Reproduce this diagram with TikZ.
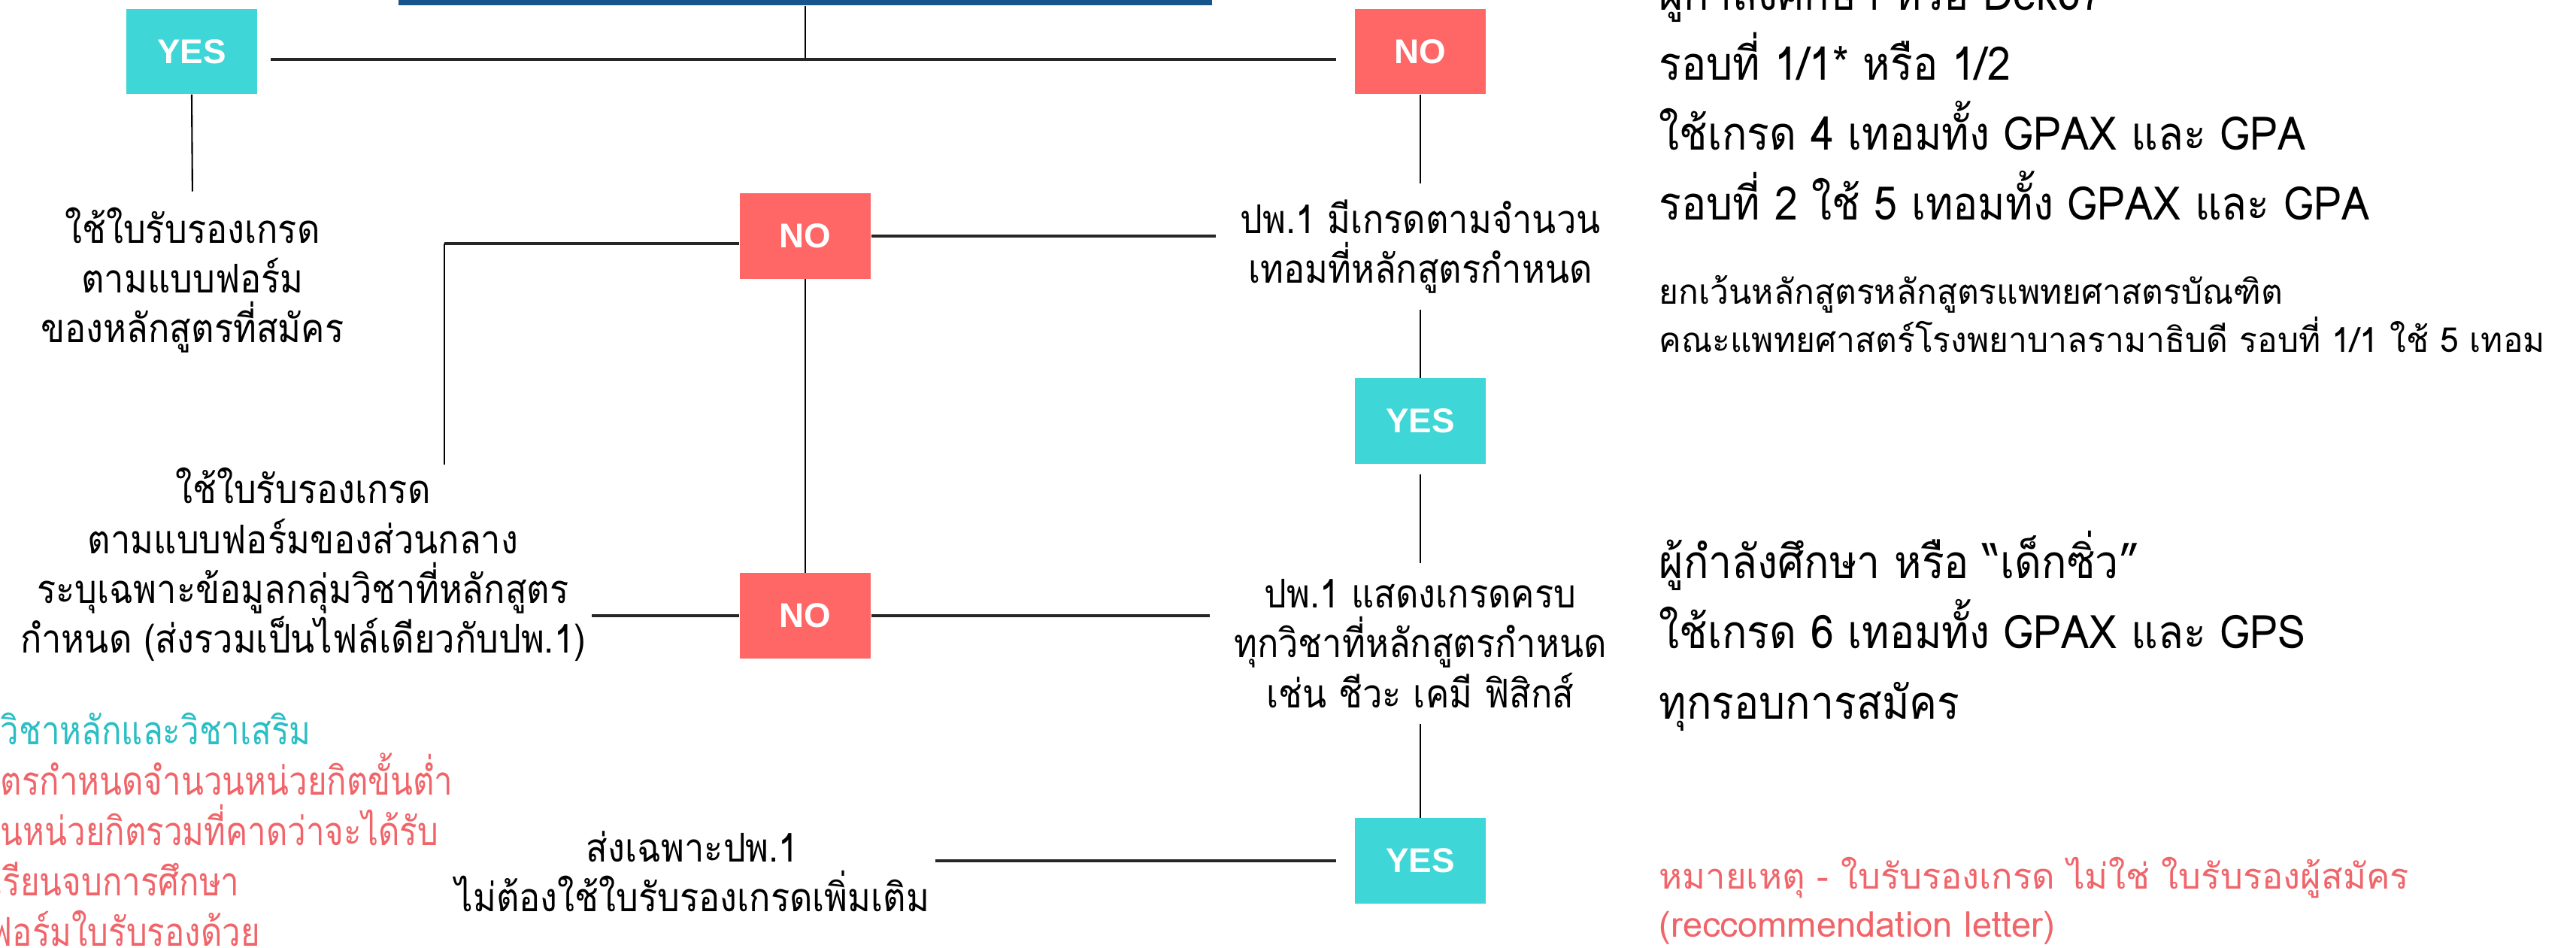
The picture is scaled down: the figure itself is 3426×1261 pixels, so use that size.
\documentclass[tikz,border=0pt]{standalone}
\usepackage{fontspec}
\usepackage{xcolor}
\setmainfont[Script=Thai]{Loma}
\newfontfamily\condfont[Script=Thai, FakeStretch=0.89]{Loma}
\newfontfamily\narrowfont[Script=Thai, FakeStretch=0.83]{Loma}
\newfontfamily\bigfont[Script=Thai, FakeStretch=0.9]{Loma}
\newfontfamily\notefont[Script=Thai, FakeStretch=0.97]{Loma}
\newfontfamily\boxfont{Liberation Sans}
\usetikzlibrary{positioning}

\definecolor{barblue}{RGB}{23,84,140}
\definecolor{yescyan}{RGB}{62,214,214}
\definecolor{nored}{RGB}{255,102,102}
\definecolor{cyantext}{RGB}{43,190,196}
\definecolor{redtext}{RGB}{240,101,106}

\begin{document}
\begin{tikzpicture}[x=0.01cm, y=-0.01cm]
	\tikzstyle{yesbox} = [fill=yescyan, minimum width=1.74cm, minimum height=1.13cm, inner sep=0pt,
		text=white, font=\boxfont\bfseries\fontsize{13}{15}\selectfont]
	\tikzstyle{nobox} = [yesbox, fill=nored]
	\tikzstyle{step text} = [align=center, inner sep=2pt, font=\condfont\fontsize{15}{18.8}\selectfont]
	\tikzstyle{big text} = [align=left, inner sep=0pt, font=\bigfont\fontsize{17.5}{26.5}\selectfont]
	\tikzstyle{small text} = [align=left, inner sep=0pt, font=\notefont\fontsize{13}{18.2}\selectfont]
	\tikzstyle{hline} = [line width=1pt, black!85]
	\tikzstyle{vline} = [line width=0.6pt, black]
	\useasboundingbox (0,0) rectangle (3426,1261);
	\node (bar) [fill=barblue, minimum width=10.82cm, minimum height=0.37cm, inner sep=0pt] at (1071,-11.5) {};
	\coordinate (split) at (1071,79);
	\node (yesA) [yesbox] at (255,68.5) {YES};
	\node (noA) [nobox] at (1889,68.5) {NO};
	\node (txtA) [step text] at (256,373) {ใช้ใบรับรองเกรด\\ตามแบบฟอร์ม\\ของหลักสูตรที่สมัคร};
	\node (noB) [nobox] at (1071,314) {NO};
	\node (txtB) [step text] at (1889,328) {ปพ.1 มีเกรดตามจำนวน\\เทอมที่หลักสูตรกำหนด};
	\node (yesB) [yesbox] at (1889,560) {YES};
	\node (txtC) [step text] at (1889,856) {ปพ.1 แสดงเกรดครบ\\ทุกวิชาที่หลักสูตรกำหนด\\เช่น ชีวะ เคมี ฟิสิกส์};
	\node (noC) [nobox] at (1071,819) {NO};
	\node (txtD) [step text] at (403,751) {ใช้ใบรับรองเกรด\\ตามแบบฟอร์มของส่วนกลาง\\ระบุเฉพาะข้อมูลกลุ่มวิชาที่หลักสูตร\\กำหนด (ส่งรวมเป็นไฟล์เดียวกับปพ.1)};
	\node (yesC) [yesbox] at (1889,1145) {YES};
	\node (txtE) [step text] at (921,1159) {ส่งเฉพาะปพ.1\\ไม่ต้องใช้ใบรับรองเกรดเพิ่มเติม};
	\coordinate (turnB) at (591,324);
	\coordinate (endB) at (591,618);
	% side notes (anchored at the baseline of their last line)
	\node (roundA) [big text, anchor=base west] at (2206,293) {ผู้กำลังศึกษา หรือ Dek67\\รอบที่ 1/1* หรือ 1/2\\ใช้เกรด 4 เทอมทั้ง GPAX และ GPA\\รอบที่ 2 ใช้ 5 เทอมทั้ง GPAX และ GPA};
	\node (except) [small text, anchor=base west] at (2206,469) {ยกเว้นหลักสูตรหลักสูตรแพทยศาสตรบัณฑิต\\คณะแพทยศาสตร์โรงพยาบาลรามาธิบดี รอบที่ 1/1 ใช้ 5 เทอม};
	\node (roundB) [big text, anchor=base west] at (2206,956) {ผู้กำลังศึกษา หรือ “เด็กซิ่ว”\\ใช้เกรด 6 เทอมทั้ง GPAX และ GPS\\ทุกรอบการสมัคร};
	\node (remark) [small text, anchor=base west, text=redtext, font=\fontsize{13.4}{18}\selectfont] at (2206,1246) {หมายเหตุ - ใบรับรองเกรด ไม่ใช่ ใบรับรองผู้สมัคร\\(reccommendation letter)};
	\node (credit) [small text, anchor=base west, font=\narrowfont\fontsize{15}{19}\selectfont] at (0,1258) {\color{cyantext}วิชาหลักและวิชาเสริม\\\color{redtext}ตรกำหนดจำนวนหน่วยกิตขั้นต่ำ\\\color{redtext}นหน่วยกิตรวมที่คาดว่าจะได้รับ\\\color{redtext}\hspace*{-0.12cm}เรียนจบการศึกษา\\\color{redtext}\hspace*{-0.15cm}ฟอร์มใบรับรองด้วย};
	% connectors
	\draw [vline] (bar.south) -- (split);
	\draw [hline, shorten <=5pt, shorten >=7pt] (yesA.east |- split) -- (noA.west |- split);
	\draw [vline, shorten >=4pt] (yesA.south) -- (txtA.north);
	\draw [hline] (noB.west |- turnB) -- (turnB);
	\draw [vline] (turnB) -- (endB);
	\draw [hline, shorten >=7pt] (noB.east) -- (txtB.west |- noB);
	\draw [vline] (noB.south) -- (noC.north);
	\draw [vline, shorten >=4pt] (noA.south) -- (txtB.north);
	\draw [vline, shorten <=4pt] (txtB.south) -- (yesB.north);
	\draw [vline, shorten <=4pt, shorten >=4pt] (yesB.south) -- (txtC.north);
	\draw [hline, shorten >=7pt] (noC.east) -- (txtC.west |- noC);
	\draw [hline] (noC.west) -- (txtD.east |- noC);
	\draw [vline, shorten <=4pt] (txtC.south) -- (yesC.north);
	\draw [hline, shorten <=7pt] (yesC.west) -- (txtE.east |- yesC);
\end{tikzpicture}
\end{document}
